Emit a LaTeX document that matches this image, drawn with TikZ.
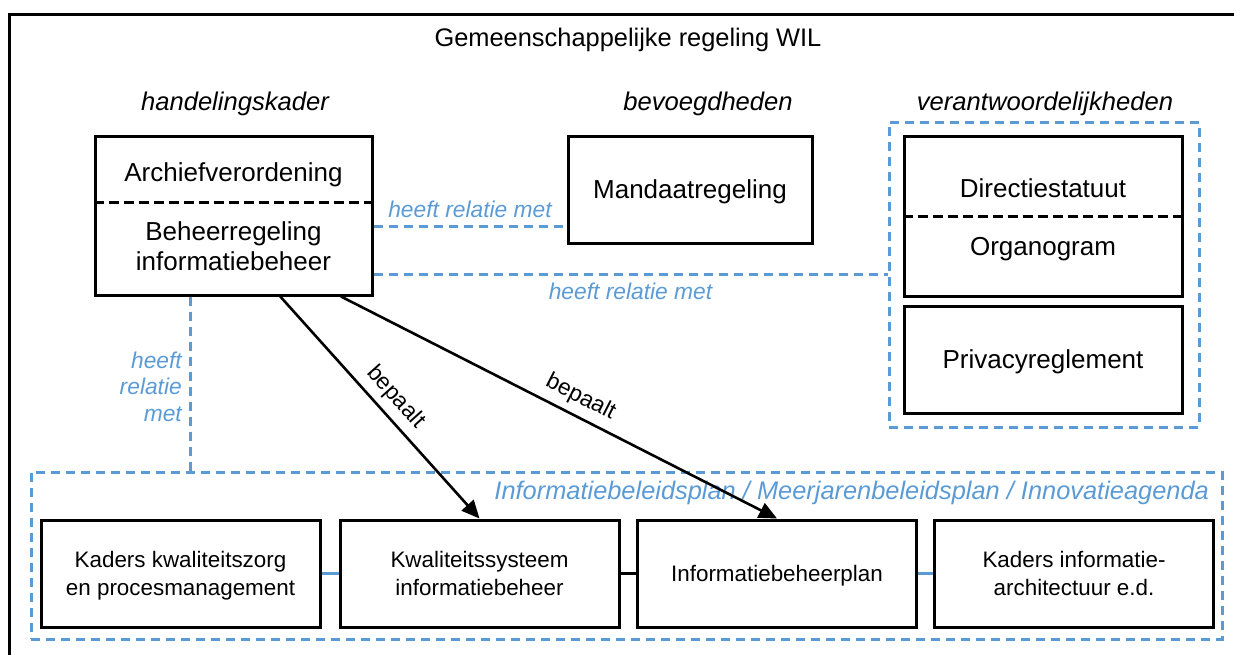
\documentclass[tikz,border=0pt]{standalone}
\usepackage{fontspec}
\setmainfont{Liberation Sans}
\usetikzlibrary{arrows.meta}
\definecolor{relblue}{HTML}{5B9BD5}

\begin{document}
\begin{tikzpicture}
    [x=0.5pt, y=-0.5pt,
    DocBox/.style={draw=black, line width=1.5pt, inner sep=0pt, text depth=0pt, align=center, font=\fontsize{13}{15}\selectfont},
    LowBox/.style={DocBox, minimum width=139.5pt, minimum height=53.5pt, font=\fontsize{11.2}{14}\selectfont},
    DocText/.style={align=center, text depth=0pt, font=\fontsize{13}{15}\selectfont},
    GroupBox/.style={draw=relblue, line width=1.5pt, dash pattern=on 4.5pt off 3pt, inner sep=0pt},
    RelLine/.style={draw=relblue, line width=1.5pt, dash pattern=on 4.5pt off 3pt},
    RelLabel/.style={text=relblue, align=right, font=\fontsize{11.4}{13.3}\selectfont\itshape},
    Divider/.style={line width=1.5pt, dash pattern=on 5pt off 2.5pt},
    HeadLabel/.style={font=\fontsize{12.8}{15}\selectfont\itshape},
    DetArrow/.style={line width=1.3pt, -{Triangle[length=9pt, width=8pt]}},
    DetLabel/.style={font=\fontsize{11.4}{13}\selectfont, above, sloped}]
     \useasboundingbox (0,0) rectangle (1234,654);
     \clip (0,0) rectangle (1234,654);
     \draw[line width=1.5pt] (9,14) rectangle (1260,680);
     \node[font=\fontsize{12.7}{15}\selectfont] (TitleLabel) at (628,40) {Gemeenschappelijke regeling WIL};
     \node[HeadLabel] (HandelLabel) at (235,104) {handelingskader};
     \node[HeadLabel] (BevoegdLabel) at (708,104) {bevoegdheden};
     \node[HeadLabel] (VerantwLabel) at (1045,104) {verantwoordelijkheden};
     \node[DocBox, minimum width=138.5pt, minimum height=79.5pt] (handel) at (233.5,215.5) {};
     \node[DocText] (archief) at (233.5,172) {Archiefverordening};
     \node[DocText] (beheer) at (233.5,246) {Beheerregeling\\informatiebeheer};
     \coordinate (hdiv) at (0,202);
     \draw[Divider] (handel.west |- hdiv) -- (handel.east |- hdiv);
     \node[DocBox, minimum width=122pt, minimum height=53.5pt] (mandaat) at (690,189.5) {Mandaatregeling};
     \node[GroupBox, minimum width=155pt, minimum height=152.5pt] (verantw) at (1044,274.5) {};
     \node[DocBox, minimum width=139pt, minimum height=80pt] (dirbox) at (1043,216.5) {};
     \node[DocText] (dir) at (1043,188) {Directiestatuut};
     \node[DocText] (org) at (1043,246) {Organogram};
     \draw[Divider] (dirbox.west) -- (dirbox.east);
     \node[DocBox, minimum width=139pt, minimum height=53.5pt] (privacy) at (1043,359.5) {Privacyreglement};
     \node[GroupBox, minimum width=595.5pt, minimum height=83.5pt] (plan) at (626.5,555.5) {};
     \node[RelLabel, anchor=east, font=\fontsize{12.7}{15}\selectfont\itshape] (PlanLabel) at (1216,493) {Informatiebeleidsplan / Meerjarenbeleidsplan / Innovatieagenda};
     \node[LowBox] (kwzorg) at (180.5,573.5) {Kaders kwaliteitszorg\\en procesmanagement};
     \node[LowBox] (kwsys) at (479.5,573.5) {Kwaliteitssysteem\\informatiebeheer};
     \node[LowBox] (ibp) at (777,573.5) {Informatiebeheerplan};
     \node[LowBox] (iarch) at (1074,573.5) {Kaders informatie-\\architectuur e.d.};
     \draw[relblue, line width=1.5pt] (kwzorg.east) -- (kwsys.west);
     \draw[line width=1.5pt] (kwsys.east) -- (ibp.west);
     \draw[relblue, line width=1.5pt] (ibp.east) -- (iarch.west);
     \coordinate (rel1) at (0,226);
     \draw[RelLine] (handel.east |- rel1) -- node[RelLabel, above] (RelLabelA) {heeft relatie met} (mandaat.west |- rel1);
     \draw[RelLine] (verantw.west -| handel.east) -- node[RelLabel, below] (RelLabelB) {heeft relatie met} (verantw.west);
     \coordinate (rel3) at (190,0);
     \draw[RelLine] (handel.south -| rel3) -- node[RelLabel, left, yshift=-1.5pt] (RelLabelC) {heeft\\relatie\\met} (plan.north -| rel3);
     \draw[DetArrow] (handel.-60) -- node[DetLabel, pos=0.51] (BepaaltA) {bepaalt} (kwsys.north);
     \draw[DetArrow] (handel.-37) -- node[DetLabel, pos=0.53] (BepaaltB) {bepaalt} (ibp.north);
\end{tikzpicture}
\end{document}
